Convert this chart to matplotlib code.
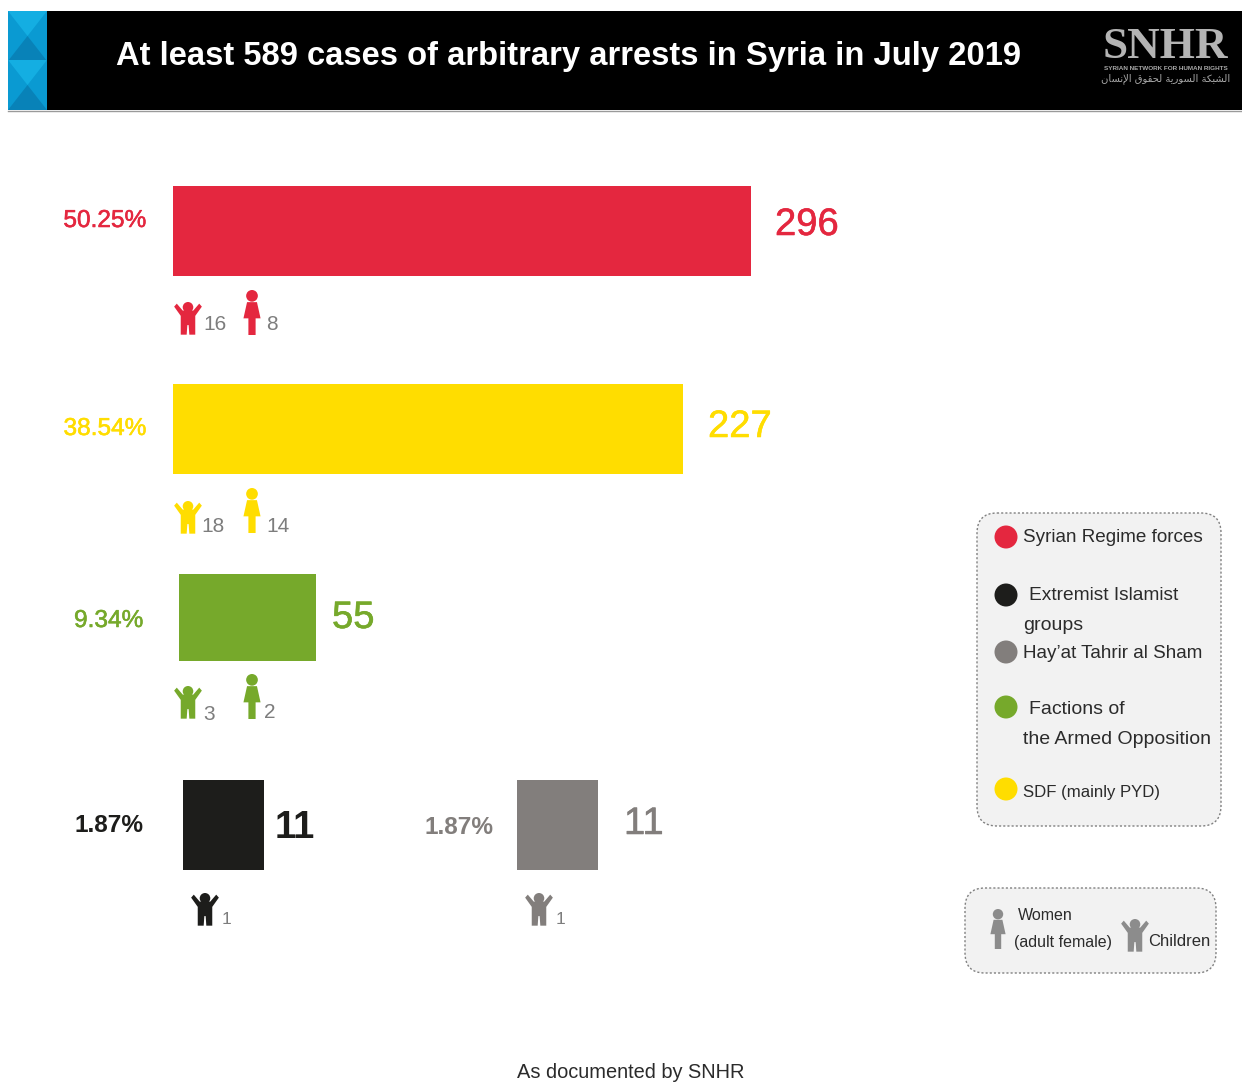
import matplotlib
matplotlib.use("Agg")
import matplotlib.pyplot as plt
import matplotlib.patheffects as pe
import numpy as np
from matplotlib.patches import Circle, FancyBboxPatch, Polygon, Rectangle

plt.rcParams["font.family"] = ["Liberation Sans", "DejaVu Sans"]

W, H = 1242, 1086

groups = ["Syrian Regime forces", "SDF (mainly PYD)", "Factions of the Armed Opposition",
          "Extremist Islamist groups", "Hay'at Tahrir al Sham"]
counts = [296, 227, 55, 11, 11]
percents = ["50.25%", "38.54%", "9.34%", "1.87%", "1.87%"]
children = [16, 18, 3, 1, 1]
women = [8, 14, 2, None, None]
colors = ["#E4273F", "#FFDD00", "#76A92B", "#1D1D1B", "#827E7C"]

# the bar lengths are not linear in the counts, so they go through a custom scale
scale_counts = [0, 11, 55, 227, 296]
scale_px = [0, 81, 137, 510, 578]

def forward(v):
    return np.interp(v, scale_counts, scale_px)

def inverse(p):
    return np.interp(p, scale_px, scale_counts)

# left, top, bottom of each bar in pixels
bar_boxes = [(173, 186, 276), (173, 384, 474), (179, 574, 661), (183, 780, 870), (517, 780, 870)]
pct_pos = [(146, 221), (146, 429), (143, 621), (143, 825), (493, 827)]
val_pos = [(775, 225), (708, 427), (332, 618), (275, 828), (624, 824)]
# child x, child top, child label x, child label y, woman top, woman label x, woman label y
icon_pos = [(188, 302, 203, 325, 290, 266, 325),
            (188, 501, 201, 527, 488, 266, 526),
            (188, 686, 203, 714, 674, 264, 712),
            (205, 893, 222, 920, None, None, None),
            (539, 893, 556, 920, None, None, None)]

fig = plt.figure(figsize=(W / 100, H / 100), dpi=100, facecolor="white")

# pixel-coordinate layer for the header, labels, icons and legends
ax = fig.add_axes([0, 0, 1, 1], zorder=2)
ax.set_xlim(0, W)
ax.set_ylim(H, 0)
ax.axis("off")
ax.patch.set_alpha(0)

def child_icon(cx, top, color, h=33):
    body = [(-.42, .14), (-.34, .05), (-.16, .26), (.16, .26), (.34, .05), (.42, .14),
            (.22, .42), (.22, .99), (.04, .99), (.02, .70), (-.02, .70), (-.04, .99),
            (-.22, .99), (-.22, .42)]
    ax.add_patch(Polygon([(cx + a * h, top + b * h) for a, b in body], fc=color, ec="none"))
    ax.add_patch(Circle((cx, top + .16 * h), .16 * h, fc=color, ec="none"))

def woman_icon(cx, top, color, h=45):
    body = [(-.11, .27), (.11, .27), (.19, .63), (.08, .63), (.08, 1), (-.08, 1),
            (-.08, .63), (-.19, .63)]
    ax.add_patch(Polygon([(cx + a * h, top + b * h) for a, b in body], fc=color, ec="none"))
    ax.add_patch(Circle((cx, top + .13 * h), .13 * h, fc=color, ec="none"))

# header band
ax.add_patch(Rectangle((47, 11), W - 47, 99, fc="black", ec="none"))
ax.plot([8, W], [110.5, 110.5], color="#9a9a9a", lw=1)
ax.add_patch(Rectangle((8, 11), 39, 99, fc="#0A9AD2", ec="none"))
for top in (11, 60):
    bot = top + 50
    mid = top + 25
    ax.add_patch(Polygon([(8, top), (47, top), (27.5, mid)], fc="#14AEE2", ec="none"))
    ax.add_patch(Polygon([(8, bot), (47, bot), (27.5, mid)], fc="#0882B8", ec="none"))

ax.text(116, 57, "At least 589 cases of arbitrary arrests in Syria in July 2019",
        color="white", fontsize=23.57, fontweight="bold", va="center", ha="left")

# logo
ax.text(1165.5, 47.5, "SNHR", color="#b4b4b4", family="Liberation Serif", fontweight="bold",
        fontsize=32.5, ha="center", va="center")
ax.text(1166, 68, "SYRIAN NETWORK FOR HUMAN RIGHTS", color="#a8a8a8", fontsize=4.6,
        fontweight="bold", ha="center", va="center")
# presentation forms in visual order, text is not shaped by the renderer
arabic = ("\ufe8d\ufedf\ufeb8\ufe92\ufedc\ufe94 \ufe8d\ufedf\ufeb4\ufeee\ufead\ufef3\ufe94 "
          "\ufedf\ufea4\ufed8\ufeee\ufed5 \ufe8d\ufef9\ufee7\ufeb4\ufe8e\ufee5")[::-1]
ax.text(1166, 79, arabic, color="#a8a8a8", fontsize=7.2, family="DejaVu Sans",
        ha="center", va="center")

# one small axes per bar, each starting at its own left edge
for i, value in enumerate(counts):
    left, top, bottom = bar_boxes[i]
    bar_ax = fig.add_axes([left / W, 1 - bottom / H, scale_px[-1] / W, (bottom - top) / H], zorder=1)
    bar_ax.set_xscale("function", functions=(forward, inverse))
    bar_ax.barh([0.5], [value], height=1, color=colors[i])
    bar_ax.set_xlim(0, counts[0])
    bar_ax.set_ylim(0, 1)
    bar_ax.axis("off")

    stroke = [pe.withStroke(linewidth=0.4, foreground=colors[i])]
    t = ax.text(pct_pos[i][0], pct_pos[i][1], percents[i], color=colors[i], fontsize=17.6,
                fontweight="bold" if i >= 3 else "normal", ha="right", va="center")
    if i < 3:
        t.set_path_effects(stroke)
    t = ax.text(val_pos[i][0], val_pos[i][1], str(value), color=colors[i], fontsize=27.5,
                fontweight="bold" if i == 3 else "normal", ha="left", va="center")
    if i != 3:
        t.set_path_effects(stroke)

    cx, ctop, clx, cly, wtop, wlx, wly = icon_pos[i]
    child_icon(cx, ctop, colors[i])
    ax.text(clx, cly, str(children[i]), color="#7d7d7d", fontsize=15 if i < 3 else 12.5,
            ha="left", va="center")
    if women[i] is not None:
        woman_icon(252, wtop, colors[i])
        ax.text(wlx, wly, str(women[i]), color="#7d7d7d", fontsize=15, ha="left", va="center")

# legend boxes
for x0, y0, x1, y1 in [(977, 513, 1221, 826), (965, 888, 1216, 973)]:
    ax.add_patch(FancyBboxPatch((x0 + 18, y0 + 18), x1 - x0 - 36, y1 - y0 - 36,
                                boxstyle="round,pad=18,rounding_size=20", fc="#F2F2F2",
                                ec="#808080", lw=1, ls=(0, (1.5, 1.5))))

legend_rows = [(537, colors[0]), (595, colors[3]), (652, colors[4]), (707, colors[2]), (789, colors[1])]
for y, c in legend_rows:
    ax.add_patch(Circle((1006, y), 11.5, fc=c, ec="none"))

legend_text = [(1023, 538, "Syrian Regime forces", 13.6), (1029, 595, "Extremist Islamist", 13.75),
               (1023, 625, "groups", 14), (1023, 653, "Hay\u2019at Tahrir al Sham", 13.6),
               (1029, 710, "Factions of", 14), (1023, 740, "the Armed Opposition", 14),
               (1023, 792, "SDF (mainly PYD)", 12.1)]
for x, y, s, size in legend_text:
    ax.text(x, y, s, color="#2b2b2b", fontsize=size, ha="left", va="center")

woman_icon(998, 909, "#8c8c8c", h=40)
child_icon(1135, 919, "#8c8c8c")
ax.text(1018, 916, "Women", color="#2b2b2b", fontsize=11.5, ha="left", va="center")
ax.text(1014, 942, "(adult female)", color="#2b2b2b", fontsize=11.5, ha="left", va="center")
ax.text(1148, 942, "Children", color="#2b2b2b", fontsize=12, ha="left", va="center")

ax.text(631, 1073, "As documented by SNHR", color="#2b2b2b", fontsize=14.4, ha="center", va="center")

fig.savefig("out.png", dpi=100)
